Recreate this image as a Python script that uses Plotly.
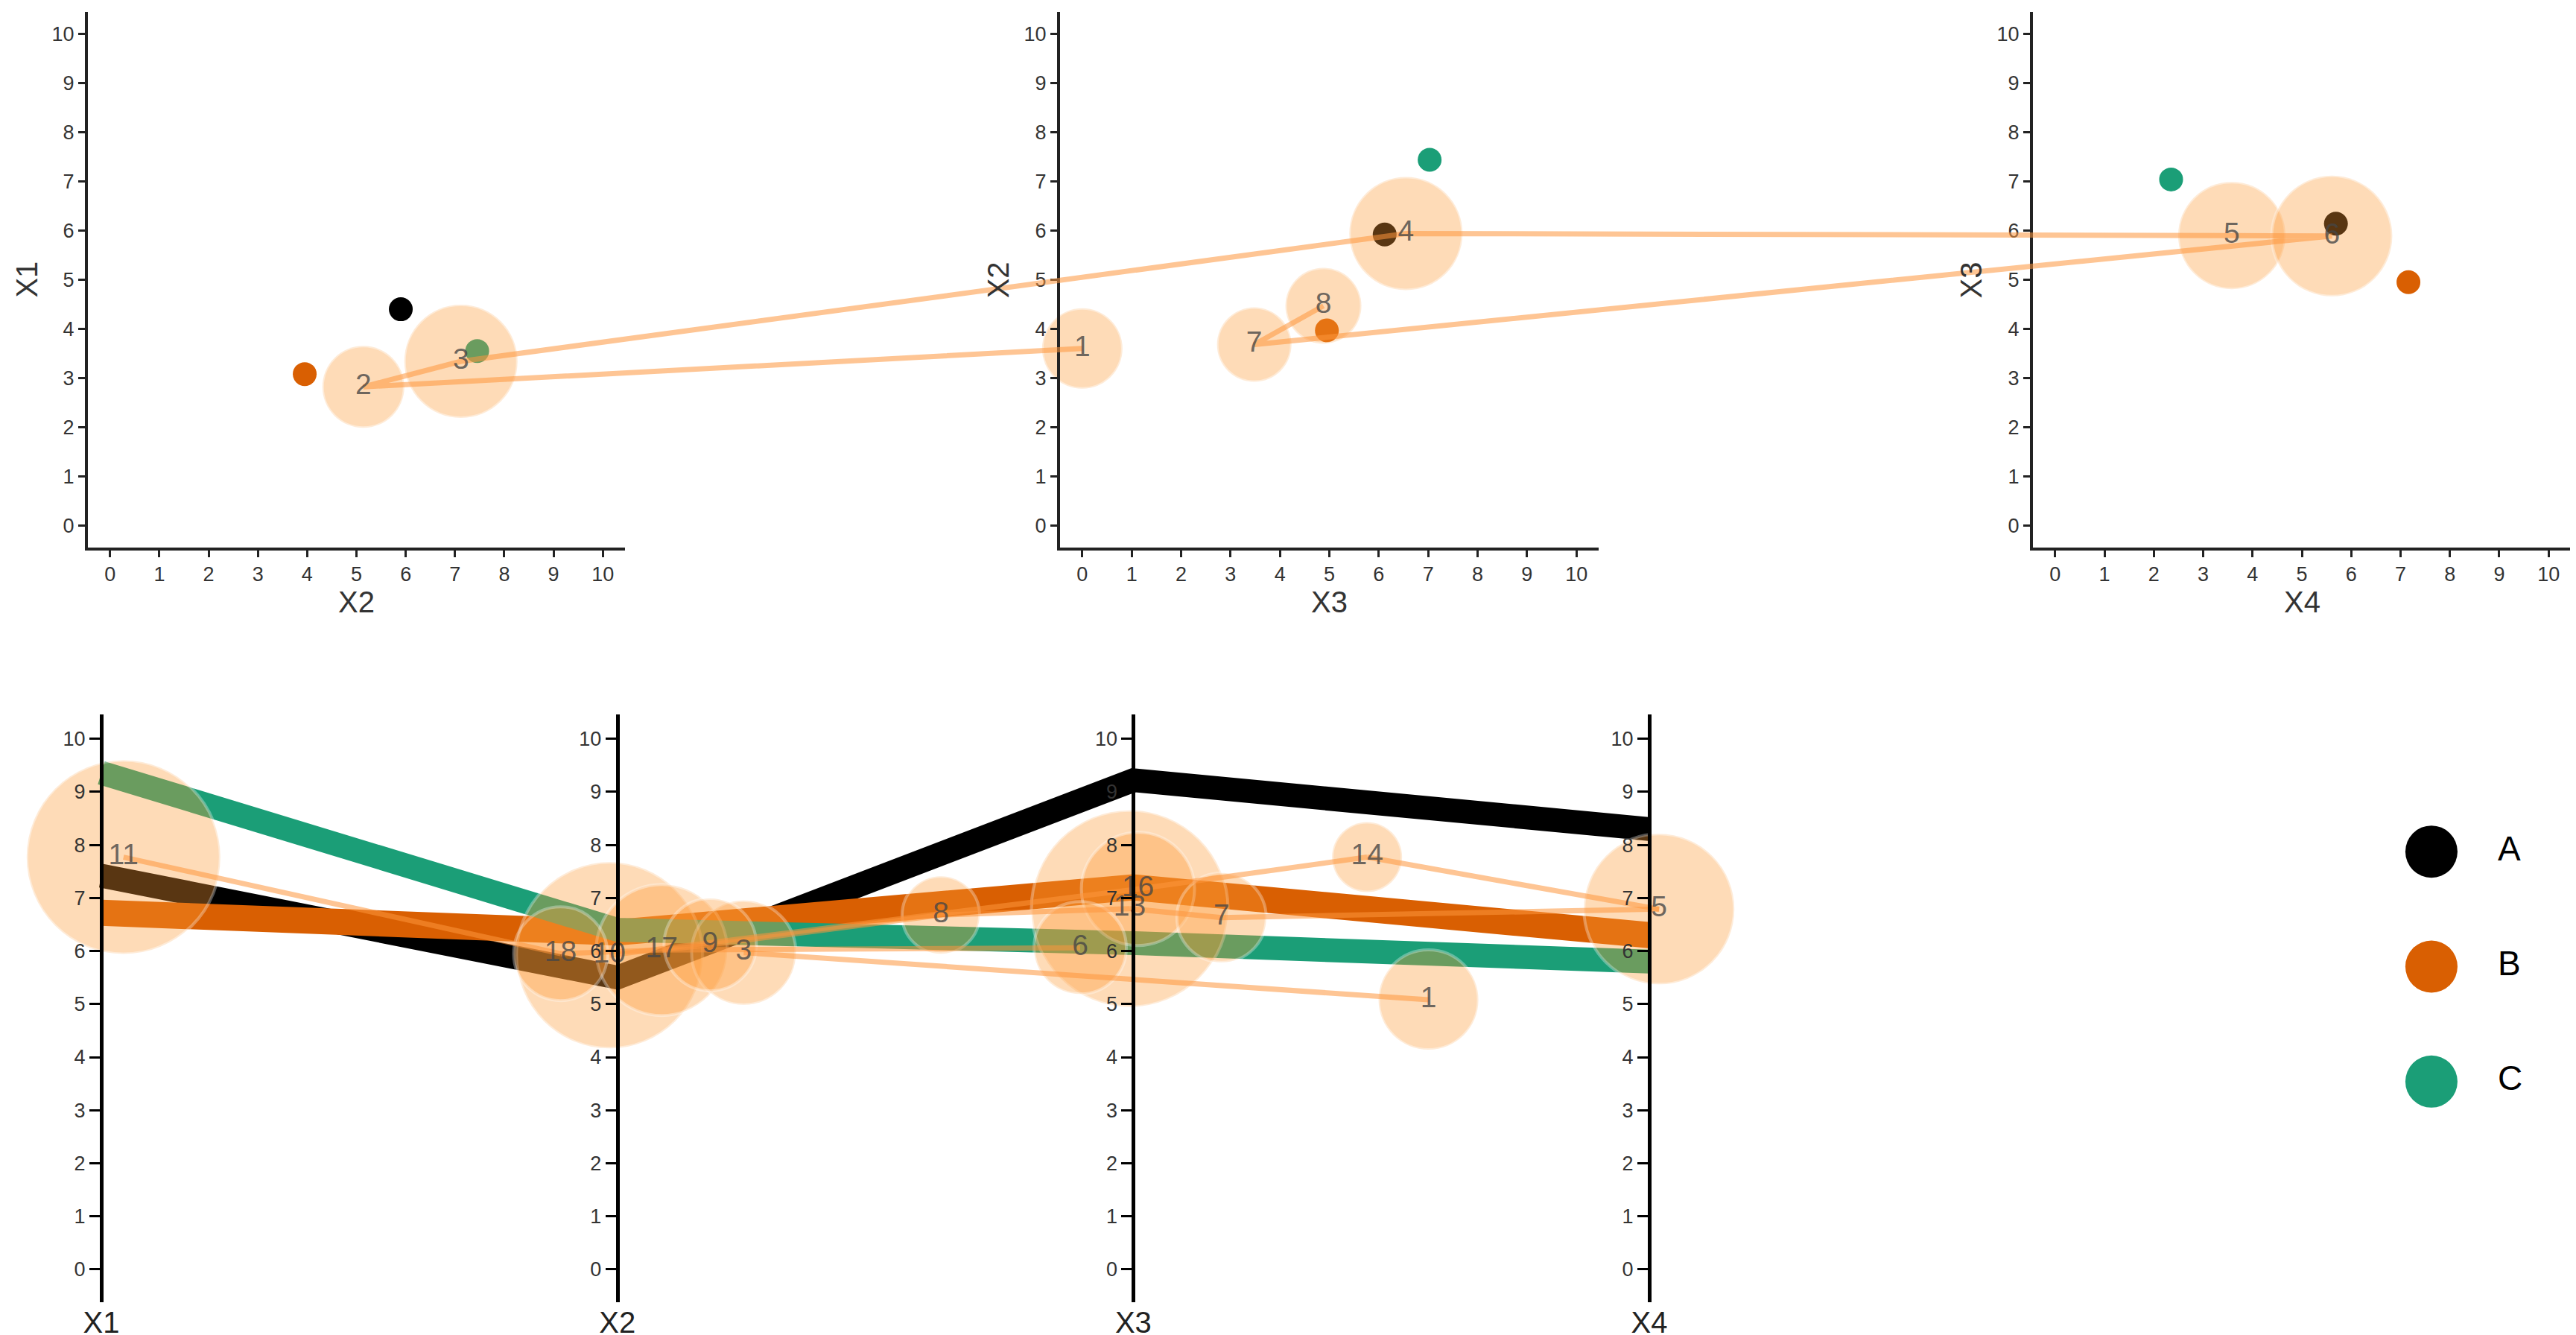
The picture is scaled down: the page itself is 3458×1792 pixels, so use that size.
import plotly.graph_objects as go

W, H = 3458, 1792
FONT = "Liberation Sans, Arial, sans-serif"

# ---------------- data ----------------
groups = ["A", "B", "C"]
group_colors = ["#000000", "#d95f02", "#1b9e77"]
dims = ["X1", "X2", "X3", "X4"]

# top scatter panels: x variable / y variable
panel_x_vars = ["X2", "X3", "X4"]
panel_y_vars = ["X1", "X2", "X3"]

# group centroids in each top panel (order A, B, C)
cent_x = [[5.9, 3.95, 7.45], [6.12, 4.95, 7.03], [5.69, 7.16, 2.35]]
cent_y = [[4.4, 3.08, 3.55], [5.92, 3.97, 7.44], [6.14, 4.95, 7.04]]

# numbered bubbles of the top row, visited in order 1..8
top_ids = ["1", "2", "3", "4", "5", "6", "7", "8"]
top_panel = [1, 0, 0, 1, 2, 2, 1, 1]
top_x = [0.0, 5.14, 7.12, 6.55, 3.58, 5.61, 3.48, 4.88]
top_y = [3.6, 2.82, 3.34, 5.94, 5.9, 5.89, 3.68, 4.47]
top_w = [54, 55, 76, 76, 72, 81, 50, 51]

# parallel-coordinate group profiles over X1..X4
par_vals = [
    [7.42, 5.5, 9.22, 8.3],   # A
    [6.72, 6.35, 7.2, 6.3],   # B
    [9.36, 6.4, 6.15, 5.8],   # C
]

# numbered bubbles of the parallel-coordinate panel
bot_ids = ["11", "10", "13", "5", "17", "16", "3", "1", "18", "9", "6", "7", "8", "14"]
bot_pos = [0.043, 0.985, 1.993, 3.019, 1.086, 2.009, 1.245, 2.572, 0.89, 1.18, 1.897, 2.171, 1.627, 2.453]
bot_val = [7.77, 5.92, 6.8, 6.79, 6.02, 7.17, 5.97, 5.08, 5.95, 6.12, 6.06, 6.63, 6.68, 7.77]
bot_w = [130, 125, 132, 101, 88, 76, 70, 67, 63, 62, 62, 60, 52, 47]
bot_links = [("11", "18"), ("18", "17"), ("17", "9"), ("9", "8"), ("8", "13"),
             ("13", "7"), ("7", "5"), ("10", "16"), ("16", "14"), ("14", "5"),
             ("3", "1"), ("17", "6")]

# ---------------- layout constants ----------------
TOP_RANGE = [-0.45, 10.45]
top_dom_x = [(110 / W, 831 / W), (1415 / W, 2138 / W), (2721 / W, 3443 / W)]
top_dom_y = (1 - 727 / H, 1 - 8 / H)

BX_RANGE = [-0.1848, 3.3089]
BX_DOM = (0.0, 2420 / W)
BY_RANGE = [-0.62, 10.46]
BY_DOM = (1 - 1740 / H, 1 - 951 / H)

BUBBLE_FILL = "rgba(253,153,51,0.5)"
BUBBLE_RING = dict(color="rgba(255,255,255,0.45)", width=4)
TRAIL = "rgba(253,150,60,0.55)"
LABEL_FONT = dict(family=FONT, size=39, color="rgba(70,70,70,0.8)")
TICK_FONT = dict(family=FONT, size=27, color="#333")
PAR_WIDTHS = [32, 35, 32]

fig = go.Figure()

# ---------------- top row ----------------
for k in range(3):
    xa, ya = f"x{k+1}", f"y{k+1}"
    fig.add_trace(go.Scatter(
        x=cent_x[k], y=cent_y[k], mode="markers", xaxis=xa, yaxis=ya,
        marker=dict(size=32, color=group_colors, line=dict(width=0)),
        showlegend=False, cliponaxis=False, hoverinfo="skip"))
    idx = [i for i, p in enumerate(top_panel) if p == k]
    fig.add_trace(go.Scatter(
        x=[top_x[i] for i in idx], y=[top_y[i] for i in idx], mode="markers",
        xaxis=xa, yaxis=ya,
        marker=dict(size=[top_w[i] for i in idx], sizemode="diameter", sizeref=0.5,
                    color=BUBBLE_FILL, line=BUBBLE_RING),
        showlegend=False, cliponaxis=False, hoverinfo="skip"))


def to_paper_x(panel, x):
    d0, d1 = top_dom_x[panel]
    return d0 + (x - TOP_RANGE[0]) / (TOP_RANGE[1] - TOP_RANGE[0]) * (d1 - d0)


trail_x = [to_paper_x(p, x) for p, x in zip(top_panel, top_x)]
fig.add_trace(go.Scatter(
    x=trail_x, y=top_y, mode="lines", xaxis="x4", yaxis="y4",
    line=dict(color=TRAIL, width=7), showlegend=False, cliponaxis=False, hoverinfo="skip"))
fig.add_trace(go.Scatter(
    x=trail_x, y=top_y, mode="text", text=top_ids, xaxis="x4", yaxis="y4",
    textfont=LABEL_FONT, showlegend=False, cliponaxis=False, hoverinfo="skip"))

# ---------------- parallel coordinates ----------------
xpos = list(range(len(dims)))
for g, col, vals, lw in zip(groups, group_colors, par_vals, PAR_WIDTHS):
    fig.add_trace(go.Scatter(
        x=xpos, y=vals, mode="lines", xaxis="x5", yaxis="y5",
        line=dict(color=col, width=lw), showlegend=False, cliponaxis=False, hoverinfo="skip"))

fig.add_trace(go.Scatter(
    x=bot_pos, y=bot_val, mode="markers", xaxis="x5", yaxis="y5",
    marker=dict(size=bot_w, sizemode="diameter", sizeref=0.5,
                color=BUBBLE_FILL, line=BUBBLE_RING),
    showlegend=False, cliponaxis=False, hoverinfo="skip"))

lookup = {b: i for i, b in enumerate(bot_ids)}
lx, ly = [], []
for a, b in bot_links:
    ia, ib = lookup[a], lookup[b]
    lx += [bot_pos[ia], bot_pos[ib], None]
    ly += [bot_val[ia], bot_val[ib], None]
fig.add_trace(go.Scatter(
    x=lx, y=ly, mode="lines", xaxis="x5", yaxis="y5",
    line=dict(color=TRAIL, width=7), showlegend=False, cliponaxis=False, hoverinfo="skip"))
fig.add_trace(go.Scatter(
    x=bot_pos, y=bot_val, mode="text", text=bot_ids, xaxis="x5", yaxis="y5",
    textfont=LABEL_FONT, showlegend=False, cliponaxis=False, hoverinfo="skip"))

# empty traces so that each free axis is drawn
for i in range(len(dims)):
    fig.add_trace(go.Scatter(x=[], y=[], xaxis="x5", yaxis=f"y{6+i}",
                             showlegend=False, hoverinfo="skip"))

# ---------------- legend ----------------
fig.add_trace(go.Scatter(
    x=[0] * len(groups), y=groups, mode="markers", xaxis="x6", yaxis="y10",
    marker=dict(size=70, color=group_colors), showlegend=False, cliponaxis=False,
    hoverinfo="skip"))
fig.add_trace(go.Scatter(
    x=[1] * len(groups), y=groups, mode="text", text=groups, textposition="middle right",
    xaxis="x6", yaxis="y10", textfont=dict(family=FONT, size=46, color="#000"),
    showlegend=False, cliponaxis=False, hoverinfo="skip"))

# ---------------- axes ----------------
layout = dict(
    width=W, height=H, autosize=False,
    margin=dict(l=0, r=0, t=0, b=0, pad=0),
    paper_bgcolor="white", plot_bgcolor="rgba(0,0,0,0)",
    font=dict(family=FONT), showlegend=False,
)

axis_common = dict(range=TOP_RANGE, showline=True, linecolor="#222", linewidth=4,
                   ticks="outside", ticklen=9, tickwidth=3, tickcolor="#222",
                   dtick=1, tick0=0, showgrid=False, zeroline=False, tickfont=TICK_FONT,
                   fixedrange=True)
annotations = []
for k in range(3):
    sfx = "" if k == 0 else str(k + 1)
    layout[f"xaxis{sfx}"] = dict(axis_common, domain=list(top_dom_x[k]), anchor=f"y{k+1}")
    layout[f"yaxis{sfx}"] = dict(axis_common, domain=list(top_dom_y), anchor=f"x{k+1}")
    annotations.append(dict(text=panel_x_vars[k], xref=f"x{sfx} domain", yref=f"y{sfx} domain",
                            x=0.5, y=-0.102, showarrow=False, xanchor="center", yanchor="middle",
                            font=dict(family=FONT, size=40, color="#333")))
    annotations.append(dict(text=panel_y_vars[k], xref=f"x{sfx} domain", yref=f"y{sfx} domain",
                            x=-0.115, y=0.5, showarrow=False, xanchor="center", yanchor="middle",
                            textangle=-90, font=dict(family=FONT, size=40, color="#333")))

layout["xaxis4"] = dict(domain=[0, 1], range=[0, 1], visible=False, anchor="y4", fixedrange=True)
layout["yaxis4"] = dict(domain=list(top_dom_y), range=TOP_RANGE, visible=False, anchor="x4",
                        fixedrange=True)

layout["xaxis5"] = dict(domain=list(BX_DOM), range=BX_RANGE, anchor="y5",
                        tickvals=xpos, ticktext=dims, ticks="", showline=False,
                        showgrid=False, zeroline=False,
                        tickfont=dict(family=FONT, size=40, color="#222"), fixedrange=True)
layout["yaxis5"] = dict(domain=list(BY_DOM), range=BY_RANGE, anchor="x5", showline=False,
                        showticklabels=False, ticks="", showgrid=False, zeroline=False,
                        fixedrange=True)
for i in range(len(dims)):
    pos = BX_DOM[0] + (xpos[i] - BX_RANGE[0]) / (BX_RANGE[1] - BX_RANGE[0]) * (BX_DOM[1] - BX_DOM[0])
    layout[f"yaxis{6+i}"] = dict(overlaying="y5", anchor="free", position=pos, side="left",
                                 range=BY_RANGE, showline=True, linecolor="#000", linewidth=5,
                                 ticks="outside", ticklen=14, tickwidth=3, tickcolor="#000",
                                 dtick=1, tick0=0, showgrid=False, zeroline=False,
                                 tickfont=TICK_FONT, fixedrange=True)

layout["xaxis6"] = dict(domain=[3150 / W, 3450 / W], range=[-1.19, 2.18], visible=False,
                        anchor="y10", fixedrange=True)
layout["yaxis10"] = dict(domain=[1 - 1521 / H, 1 - 1058 / H], type="category",
                         categoryorder="array", categoryarray=groups, range=[2.5, -0.5],
                         visible=False, anchor="x6", fixedrange=True)
layout["annotations"] = annotations

fig.update_layout(**layout)
fig.write_html("out.html")
